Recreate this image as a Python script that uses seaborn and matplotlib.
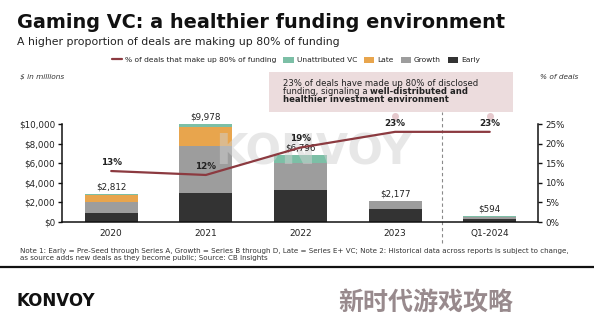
import matplotlib
matplotlib.use("Agg")
import matplotlib.pyplot as plt
import matplotlib.transforms as mtransforms
from matplotlib.lines import Line2D
from matplotlib.patches import Patch, Rectangle
import seaborn as sns
import numpy as np

# ---------------- data ----------------
periods = ["2020", "2021", "2022", "2023", "Q1-2024"]
early = [950, 2930, 3265, 1360, 280]
growth = [1060, 4860, 2725, 780, 250]
late = [740, 1940, 0, 0, 0]
unattributed = [62, 248, 806, 37, 64]
total_labels = ["$2,812", "$9,978", "$6,796", "$2,177", "$594"]
pct_deals = [13, 12, 19, 23, 23]
pct_labels = ["13%", "12%", "19%", "23%", "23%"]
left_ticks = [0, 2000, 4000, 6000, 8000, 10000]
left_tick_labels = ["$0", "$2,000", "$4,000", "$6,000", "$8,000", "$10,000"]
right_ticks = [0, 5, 10, 15, 20, 25]
right_tick_labels = ["0%", "5%", "10%", "15%", "20%", "25%"]

C_EARLY = "#333333"
C_GROWTH = "#9d9d9d"
C_LATE = "#e8a54d"
C_UNATTR = "#7cbfa6"
C_LINE = "#8c3a40"
C_BOX = "#ecdcdd"
TXT = "#222222"

sns.set_theme(style="white")
plt.rcParams["font.family"] = ["DejaVu Sans"]

W, H = 594, 331
fig = plt.figure(figsize=(W / 100, H / 100), dpi=100)
fig.patch.set_facecolor("white")

def fx(px):
    return px / W

def fy(py):
    return 1 - py / H

ax = fig.add_axes([fx(62), fy(222), fx(538) - fx(62), fy(124) - fy(222)])
ax.set_facecolor("none")

# stacked bars drawn as cumulative layers, top layer first
cum1 = np.array(early, dtype=float)
cum2 = cum1 + np.array(growth)
cum3 = cum2 + np.array(late)
cum4 = cum3 + np.array(unattributed)
for vals, col in [(cum4, C_UNATTR), (cum3, C_LATE), (cum2, C_GROWTH), (cum1, C_EARLY)]:
    sns.barplot(x=periods, y=vals, color=col, saturation=1, width=0.56,
                errorbar=None, ax=ax, zorder=2, linewidth=0, edgecolor="none")

ax.set_xlim(-0.52, 4.51)
ax.set_ylim(0, 10000)
ax.set_yticks(left_ticks)
ax.set_yticklabels(left_tick_labels)
ax.set_xlabel("")
ax.set_ylabel("")
ax.tick_params(axis="y", length=3, width=1, color="#111111", labelsize=6.3,
               labelcolor=TXT, pad=2, left=True)
ax.tick_params(axis="x", length=0, labelsize=6.5, labelcolor=TXT, pad=5)
for s in ["top", "right"]:
    ax.spines[s].set_visible(False)
for s in ["left", "bottom"]:
    ax.spines[s].set_color("#111111")
    ax.spines[s].set_linewidth(1.1)

# total labels
for i, lab in enumerate(total_labels):
    ax.annotate(lab, (i, cum4[i]), xytext=(0, 1.8), textcoords="offset points",
                ha="center", va="bottom", fontsize=6.3, color=TXT, zorder=6)

# watermark
ax.text(2.14, 7100, "KONVOY", ha="center", va="center", fontsize=30,
        fontweight="bold", color="#d0d0d0", alpha=0.5, zorder=3)

# line on twin axis
ax2 = ax.twinx()
ax2.set_facecolor("none")
sns.lineplot(x=np.arange(len(periods)), y=pct_deals, ax=ax2, color=C_LINE,
             linewidth=1.6, zorder=5)
ax2.set_ylim(0, 25)
ax2.set_xlim(-0.52, 4.51)
ax2.set_yticks(right_ticks)
ax2.set_yticklabels(right_tick_labels)
ax2.set_ylabel("")
ax2.tick_params(axis="y", length=3, width=1, color="#111111", labelsize=6.3,
                labelcolor=TXT, pad=2, right=True)
for s in ["top", "left", "bottom"]:
    ax2.spines[s].set_visible(False)
ax2.spines["right"].set_color("#111111")
ax2.spines["right"].set_linewidth(1.1)

for i, lab in enumerate(pct_labels):
    ax2.annotate(lab, (i, pct_deals[i]), xytext=(0, 3), textcoords="offset points",
                 ha="center", va="bottom", fontsize=6.3, fontweight="bold",
                 color=TXT, zorder=7)

# dashed divider between 2023 and Q1-2024
trans = mtransforms.blended_transform_factory(ax.transData, ax.transAxes)
ax.plot([3.5, 3.5], [-0.21, 1.12], transform=trans, color="#8a8a8a",
        linestyle=(0, (3, 2.5)), linewidth=0.8, clip_on=False, zorder=1)

# connector dots under the annotation box
for i in [3, 4]:
    ax.plot([i], [1.08], marker="o", markersize=4, color="#e6c9cd",
            transform=trans, clip_on=False, zorder=4)

# annotation box
box = Rectangle((fx(269), fy(112)), fx(513) - fx(269), fy(72) - fy(112),
                transform=fig.transFigure, facecolor=C_BOX, edgecolor="none",
                zorder=0)
fig.patches.append(box)
bx = fx(283)
fs_box = 6.1
fig.text(bx, fy(83), "23% of deals have made up 80% of disclosed",
         fontsize=fs_box, color=TXT, va="center")
t2 = fig.text(bx, fy(91.5), "funding, signaling a ", fontsize=fs_box,
              color=TXT, va="center")
fig.canvas.draw()
bb = t2.get_window_extent(renderer=fig.canvas.get_renderer())
fig.text(bb.x1 / fig.bbox.width, fy(91.5), "well-distributed and",
         fontsize=fs_box, fontweight="bold", color=TXT, va="center")
fig.text(bx, fy(100), "healthier investment environment", fontsize=fs_box,
         fontweight="bold", color=TXT, va="center")

# axis unit labels
fig.text(fx(20), fy(77), "$ in millions", fontsize=5.3, style="italic",
         color="#333333", va="center")
fig.text(fx(540), fy(77), "% of deals", fontsize=5.3, style="italic",
         color="#333333", va="center")

# legend
handles = [
    Line2D([0], [0], color=C_LINE, lw=1.6),
    Patch(facecolor=C_UNATTR, edgecolor="none"),
    Patch(facecolor=C_LATE, edgecolor="none"),
    Patch(facecolor=C_GROWTH, edgecolor="none"),
    Patch(facecolor=C_EARLY, edgecolor="none"),
]
labels = ["% of deals that make up 80% of funding", "Unattributed VC", "Late",
          "Growth", "Early"]
fig.legend(handles, labels, loc="center", bbox_to_anchor=(fx(296), fy(60)),
           ncol=5, frameon=False, fontsize=5.4, handlelength=1.4,
           handleheight=1.0, handletextpad=0.4, columnspacing=0.9,
           borderpad=0, labelcolor=TXT)

# titles
fig.text(fx(17), fy(22), "Gaming VC: a healthier funding environment",
         fontsize=13.9, fontweight="bold", color="#111111", va="center")
fig.text(fx(17), fy(42), "A higher proportion of deals are making up 80% of funding",
         fontsize=7.8, color="#222222", va="center")

# notes
fig.text(fx(20), fy(251),
         "Note 1: Early = Pre-Seed through Series A, Growth = Series B through D, "
         "Late = Series E+ VC; Note 2: Historical data across reports is subject to change,",
         fontsize=5.1, color="#333333", va="center")
fig.text(fx(20), fy(258),
         "as source adds new deals as they become public; Source: CB Insights",
         fontsize=5.1, color="#333333", va="center")

# separator and footer
fig.add_artist(Line2D([0, 1], [fy(267), fy(267)], transform=fig.transFigure,
                      color="#111111", lw=1.6))
fig.text(fx(17), fy(301), "KONVOY", fontsize=12, fontweight="bold",
         color="#111111", va="center")
fig.text(fx(338), fy(303), "新时代游戏攻略", fontsize=18, fontweight="heavy",
         color="#988a8d", va="center", family=["Noto Sans CJK SC", "DejaVu Sans"])

fig.savefig("out.png", dpi=100, facecolor="white")
